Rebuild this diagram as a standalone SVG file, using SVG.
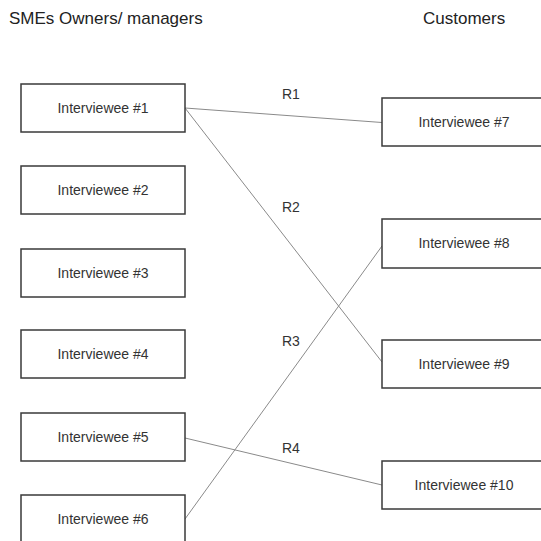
<svg xmlns="http://www.w3.org/2000/svg" width="541" height="541" viewBox="0 0 541 541">
<style>
.box{fill:#fff;stroke:#3a3a3a;stroke-width:1.5}
.t{font-family:"Liberation Sans",Arial,sans-serif;font-size:14px;fill:#333;text-anchor:middle}
.h{font-family:"Liberation Sans",Arial,sans-serif;font-size:17px;fill:#222}
.lbl{font-family:"Liberation Sans",Arial,sans-serif;font-size:14px;fill:#333}
.c{stroke:#8a8a8a;stroke-width:1;fill:none}
</style>
<rect width="541" height="541" fill="#fff"/>
<text class="h" x="9" y="24">SMEs Owners/ managers</text>
<text class="h" x="423" y="24">Customers</text>
<g id="connectors">
<line class="c" x1="185" y1="108" x2="382" y2="122.5"/>
<line class="c" x1="185" y1="108" x2="382" y2="362"/>
<line class="c" x1="185" y1="519" x2="382" y2="246"/>
<line class="c" x1="185" y1="438" x2="382" y2="485"/>
<text class="lbl" x="282" y="99">R1</text>
<text class="lbl" x="282" y="212">R2</text>
<text class="lbl" x="282" y="346">R3</text>
<text class="lbl" x="282" y="453">R4</text>
</g>
<g id="n1"><rect class="box" x="21" y="84" width="164" height="48"/><text class="t" x="103" y="113">Interviewee #1</text></g>
<g id="n2"><rect class="box" x="21" y="166" width="164" height="48"/><text class="t" x="103" y="195">Interviewee #2</text></g>
<g id="n3"><rect class="box" x="21" y="249" width="164" height="48"/><text class="t" x="103" y="278">Interviewee #3</text></g>
<g id="n4"><rect class="box" x="21" y="330" width="164" height="48"/><text class="t" x="103" y="359">Interviewee #4</text></g>
<g id="n5"><rect class="box" x="21" y="413" width="164" height="48"/><text class="t" x="103" y="442">Interviewee #5</text></g>
<g id="n6"><rect class="box" x="21" y="495" width="164" height="48"/><text class="t" x="103" y="524">Interviewee #6</text></g>
<g id="n7"><rect class="box" x="382" y="98" width="164" height="48"/><text class="t" x="464" y="127">Interviewee #7</text></g>
<g id="n8"><rect class="box" x="382" y="219" width="164" height="49"/><text class="t" x="464" y="248">Interviewee #8</text></g>
<g id="n9"><rect class="box" x="382" y="340" width="164" height="48"/><text class="t" x="464" y="369">Interviewee #9</text></g>
<g id="n10"><rect class="box" x="382" y="461" width="164" height="48"/><text class="t" x="464" y="490">Interviewee #10</text></g>
</svg>
